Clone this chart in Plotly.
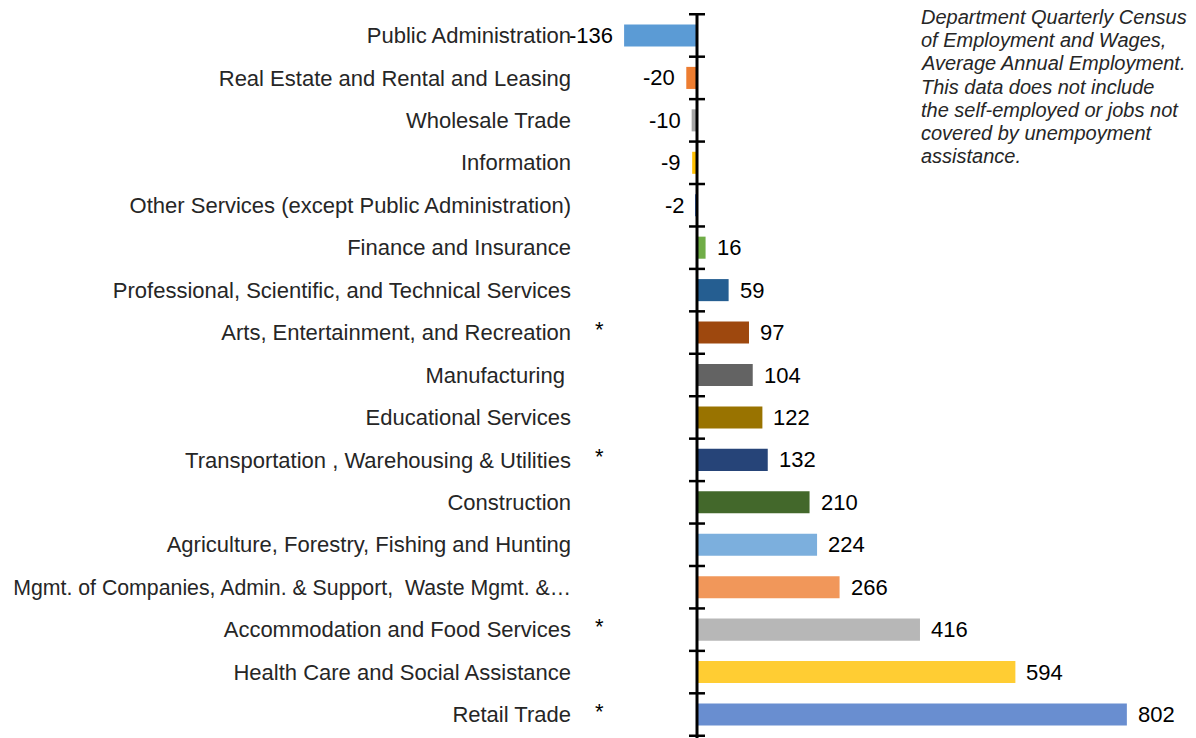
import plotly.graph_objects as go

categories = [
    "Public Administration",
    "Real Estate and Rental and Leasing",
    "Wholesale Trade",
    "Information",
    "Other Services (except Public Administration)",
    "Finance and Insurance",
    "Professional, Scientific, and Technical Services",
    "Arts, Entertainment, and Recreation",
    "Manufacturing\u00a0",
    "Educational Services",
    "Transportation , Warehousing & Utilities",
    "Construction",
    "Agriculture, Forestry, Fishing and Hunting",
    "Mgmt. of Companies, Admin. & Support,\u00a0 Waste Mgmt. &\u2026",
    "Accommodation and Food Services",
    "Health Care and Social Assistance",
    "Retail Trade",
]
values = [-136, -20, -10, -9, -2, 16, 59, 97, 104, 122, 132, 210, 224, 266, 416, 594, 802]
colors = [
    "#5B9BD5", "#ED7D31", "#A5A5A5", "#FFC000", "#4472C4", "#70AD47",
    "#255E91", "#9E480E", "#636363", "#997300", "#264478", "#43682B",
    "#7CAFDD", "#F1975A", "#B7B7B7", "#FFCD33", "#698ED0",
]
starred = [
    "Arts, Entertainment, and Recreation",
    "Transportation , Warehousing & Utilities",
    "Accommodation and Food Services",
    "Retail Trade",
]
note_lines = [
    "Source: Oregon Employment",
    "Department Quarterly Census",
    "of Employment and Wages,",
    "Average Annual Employment.",
    "This data does not include",
    "the self-employed or jobs not",
    "covered by unempoyment",
    "assistance.",
]

FONT = "Liberation Sans, Arial, sans-serif"
TXT = "#262626"

# layout geometry (figure pixels; page adds 8px body margin)
ZERO_PX = 689
PX_PER = 0.536
LEFT_PX, RIGHT_PX = 564, 1190
TOP_PX, BOTTOM_PX = 5, 729
PLOT_H = BOTTOM_PX - TOP_PX

tick_text = []
for c in categories:
    if c.startswith("Mgmt."):
        tick_text.append('<span style="font-size:21.3px">' + c + "</span>")
    else:
        tick_text.append(c)

fig = go.Figure(go.Bar(
    x=values, y=categories, orientation="h",
    marker=dict(color=colors, line=dict(width=0)),
    hoverinfo="x+y",
))

annotations = []
for c, v in zip(categories, values):
    annotations.append(dict(
        x=v, y=c, xref="x", yref="y", text=str(v), showarrow=False,
        xanchor="left" if v >= 0 else "right", xshift=9 if v >= 0 else -9,
        font=dict(family=FONT, size=22, color="#000000"),
    ))
for c in starred:
    annotations.append(dict(
        x=0, y=c, xref="paper", yref="y", text="*", showarrow=False,
        xanchor="center", xshift=27, yshift=3,
        font=dict(family=FONT, size=22, color="#000000"),
    ))
note_x = (911 - ZERO_PX) / PX_PER
for i, line in enumerate(note_lines):
    center_px = (17 - 8) + 23.2 * (i - 1)
    annotations.append(dict(
        x=note_x, y=1 - (center_px - TOP_PX) / PLOT_H, xref="x", yref="paper",
        xanchor="left", yanchor="middle", text="<i>" + line + "</i>",
        showarrow=False, font=dict(family=FONT, size=20, color=TXT),
    ))

shapes = [dict(type="line", xref="x", yref="paper", x0=0, x1=0, y0=-0.02, y1=1,
               line=dict(color="#000000", width=3))]
for i in range(len(categories) + 1):
    shapes.append(dict(
        type="line", xref="x", yref="y", xsizemode="pixel", xanchor=0,
        x0=-8, x1=8, y0=i - 0.5, y1=i - 0.5,
        line=dict(color="#000000", width=2.5),
    ))

fig.update_layout(
    width=1196, height=738,
    margin=dict(l=LEFT_PX, r=1196 - RIGHT_PX, t=TOP_PX, b=738 - BOTTOM_PX,
                autoexpand=False),
    paper_bgcolor="white", plot_bgcolor="white",
    bargap=0.48, showlegend=False,
    xaxis=dict(range=[(LEFT_PX - ZERO_PX) / PX_PER, (RIGHT_PX - ZERO_PX) / PX_PER],
               visible=False, showgrid=False, zeroline=False, automargin=False),
    yaxis=dict(autorange="reversed", showgrid=False, zeroline=False,
               showline=False, ticks="", automargin=False,
               tickmode="array", tickvals=categories, ticktext=tick_text,
               tickfont=dict(family=FONT, size=22, color=TXT)),
    annotations=annotations, shapes=shapes,
)
fig.write_html("out.html")
